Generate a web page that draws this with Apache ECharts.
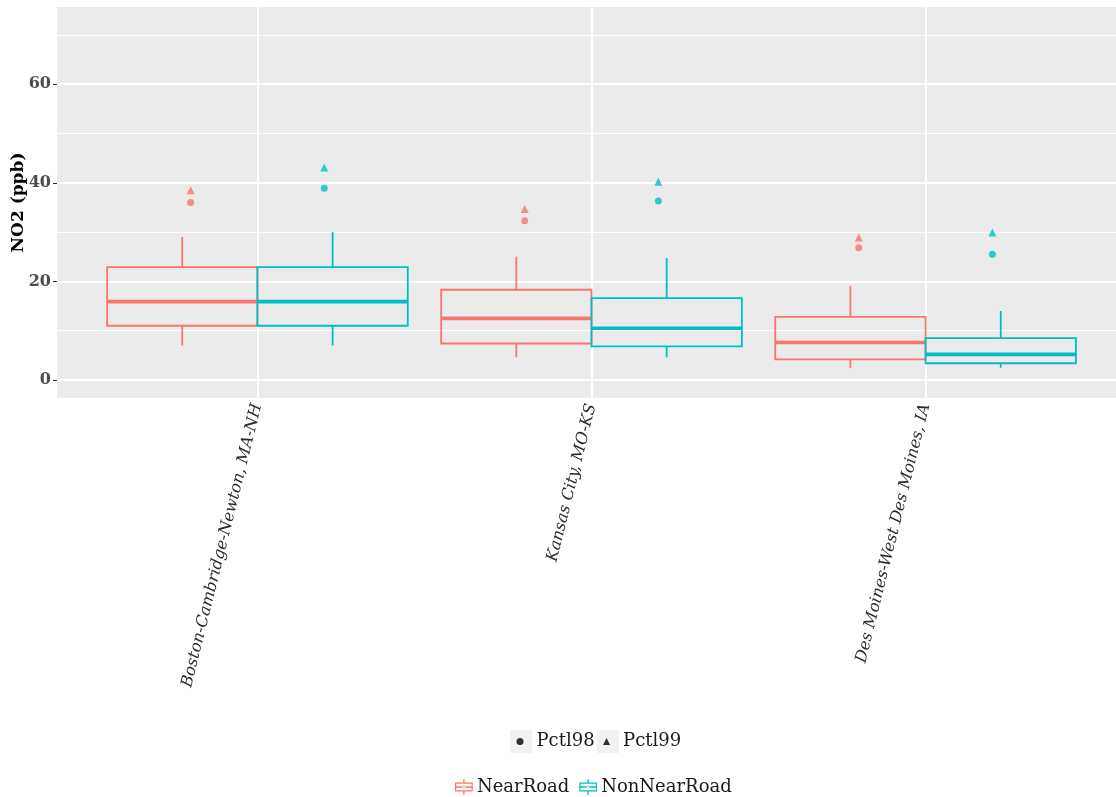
<!DOCTYPE html>
<html>
<head>
<meta charset="utf-8">
<script src="https://cdn.jsdelivr.net/npm/echarts@6/dist/echarts.min.js"></script>
<style>
html,body{margin:0;padding:0;background:#fff;}
#chart{width:1116px;height:797px;}
</style>
</head>
<body>
<div id="chart"></div>
<script>
// ---- data ----
const categories = ['Boston-Cambridge-Newton, MA-NH', 'Kansas City, MO-KS', 'Des Moines-West Des Moines, IA'];
const groupNames = ['NearRoad', 'NonNearRoad'];
// [lowerWhisker, Q1, median, Q3, upperWhisker]
const nearRoadBox = [
  [7.0, 11.0, 15.9, 22.9, 29.0],
  [4.6, 7.4, 12.5, 18.3, 25.0],
  [2.4, 4.2, 7.6, 12.8, 19.1]
];
const nonNearRoadBox = [
  [7.0, 11.0, 15.9, 22.9, 30.0],
  [4.6, 6.8, 10.5, 16.6, 24.7],
  [2.5, 3.4, 5.2, 8.5, 14.0]
];
const nearRoadPctl98 = [36.0, 32.3, 26.8];
const nearRoadPctl99 = [38.5, 34.7, 28.9];
const nonNearRoadPctl98 = [38.9, 36.3, 25.5];
const nonNearRoadPctl99 = [43.1, 40.2, 29.9];
const yTickValues = [0, 20, 40, 60];
const yMinorGridValues = [10, 30, 50, 70];
const yTitle = 'NO2 (ppb)';
const pointLegend = ['Pctl98', 'Pctl99'];

// ---- style ----
const COLORS = { NearRoad: '#F8766D', NonNearRoad: '#00BFC4' };
const BOX_WIDTH = 0.45;   // dodge width 0.9 split in two
const POINT_DODGE = 0.2;
const FONT = '"DejaVu Serif", "Liberation Serif", serif';

const catPositions = categories.map((c, i) => i + 1);

function boxRender(offset, color) {
  return function (params, api) {
    const x = api.value(0) + offset;
    const pLow = api.coord([x, api.value(1)]);
    const pQ1 = api.coord([x, api.value(2)]);
    const pMed = api.coord([x, api.value(3)]);
    const pQ3 = api.coord([x, api.value(4)]);
    const pHigh = api.coord([x, api.value(5)]);
    const halfW = api.size([BOX_WIDTH, 0])[0] / 2;
    const lw = 1.8;
    return {
      type: 'group',
      children: [
        { type: 'line', shape: { x1: pLow[0], y1: pLow[1], x2: pQ1[0], y2: pQ1[1] }, style: { stroke: color, lineWidth: lw } },
        { type: 'line', shape: { x1: pQ3[0], y1: pQ3[1], x2: pHigh[0], y2: pHigh[1] }, style: { stroke: color, lineWidth: lw } },
        { type: 'rect', shape: { x: pQ3[0] - halfW, y: pQ3[1], width: 2 * halfW, height: pQ1[1] - pQ3[1] }, style: { fill: 'none', stroke: color, lineWidth: lw } },
        { type: 'line', shape: { x1: pMed[0] - halfW, y1: pMed[1], x2: pMed[0] + halfW, y2: pMed[1] }, style: { stroke: color, lineWidth: 3.6 } }
      ]
    };
  };
}

function boxData(arr) {
  return arr.map((b, i) => [catPositions[i]].concat(b));
}
function pointData(arr, offset) {
  return arr.map((v, i) => [catPositions[i] + offset, v]);
}

const boxIcon = 'path://M1,4H21V14H1Z M2.4,5.4V12.6H19.6V5.4Z M2.4,8.2H19.6V9.8H2.4Z M10.3,0H11.7V4H10.3Z M10.3,14H11.7V18H10.3Z M9.4,9A1.6,1.6 0 1,0 12.6,9A1.6,1.6 0 1,0 9.4,9Z';

const chart = echarts.init(document.getElementById('chart'), null, { renderer: 'canvas' });

const option = {
  animation: false,
  backgroundColor: '#FFFFFF',
  textStyle: { fontFamily: FONT },
  grid: {
    left: 57, top: 7, right: 0, bottom: 399,
    show: true, backgroundColor: '#EBEBEB', borderWidth: 0,
    containLabel: false, outerBoundsMode: 'none'
  },
  graphic: [
    { type: 'rect', left: 510, top: 730, shape: { width: 22, height: 23 }, style: { fill: '#F2F2F2' }, z: -1 },
    { type: 'rect', left: 597, top: 730, shape: { width: 22, height: 23 }, style: { fill: '#F2F2F2' }, z: -1 }
  ],
  legend: [
    {
      top: 731.5, left: 516.5, orient: 'horizontal', padding: 0,
      itemWidth: 7, itemHeight: 7, itemGap: 8.5,
      textStyle: { fontFamily: FONT, fontSize: 18, lineHeight: 20, color: '#1A1A1A', padding: [0, 0, 0, 8] },
      data: [
        { name: pointLegend[0], icon: 'circle', itemStyle: { color: '#000' } },
        { name: pointLegend[1], icon: 'triangle', itemStyle: { color: '#000' } }
      ],
      selectedMode: false
    },
    {
      top: 777, left: 455, orient: 'horizontal', padding: 0,
      itemWidth: 22, itemHeight: 16, itemGap: 10,
      textStyle: { fontFamily: FONT, fontSize: 18, lineHeight: 20, color: '#1A1A1A', padding: [0, 0, 0, -3] },
      data: [
        { name: groupNames[0], icon: boxIcon },
        { name: groupNames[1], icon: boxIcon }
      ],
      selectedMode: false
    }
  ],
  xAxis: {
    type: 'value', min: 0.4, max: 3.57,
    axisLine: { show: false },
    axisTick: { show: true, customValues: catPositions, length: 4, lineStyle: { color: '#333333', width: 1 } },
    axisLabel: {
      customValues: catPositions,
      formatter: v => categories[Math.round(v) - 1] || '',
      rotate: 76, margin: 6,
      fontFamily: FONT, fontStyle: 'italic', fontSize: 16, color: '#2B2B2B'
    },
    splitLine: { show: false }
  },
  yAxis: {
    type: 'value', min: -3.65, max: 75.65,
    name: yTitle, nameLocation: 'middle', nameGap: 30, nameRotate: 90, nameMoveOverlap: false,
    nameTextStyle: { fontFamily: FONT, fontWeight: 'bold', fontSize: 17, color: '#000' },
    axisLine: { show: false },
    axisTick: { show: true, customValues: yTickValues, length: 4, lineStyle: { color: '#333333', width: 1 } },
    axisLabel: { customValues: yTickValues, margin: 6, fontFamily: FONT, fontWeight: 'bold', fontSize: 16, color: '#4D4D4D' },
    splitLine: { show: false }
  },
  series: [
    {
      name: 'grid', type: 'line', data: [], z: 1, silent: true,
      markLine: {
        silent: true, symbol: 'none', label: { show: false }, animation: false, z: 1,
        data: []
          .concat(yMinorGridValues.map(v => ({ yAxis: v, lineStyle: { color: '#FFFFFF', width: 1, type: 'solid' } })))
          .concat(yTickValues.map(v => ({ yAxis: v, lineStyle: { color: '#FFFFFF', width: 2, type: 'solid' } })))
          .concat(catPositions.map(v => ({ xAxis: v, lineStyle: { color: '#FFFFFF', width: 2, type: 'solid' } })))
      }
    },
    {
      name: groupNames[0], type: 'custom', z: 3,
      itemStyle: { color: COLORS.NearRoad },
      renderItem: boxRender(-BOX_WIDTH / 2, COLORS.NearRoad),
      encode: { x: 0, y: [1, 2, 3, 4, 5] },
      data: boxData(nearRoadBox)
    },
    {
      name: groupNames[1], type: 'custom', z: 3,
      itemStyle: { color: COLORS.NonNearRoad },
      renderItem: boxRender(BOX_WIDTH / 2, COLORS.NonNearRoad),
      encode: { x: 0, y: [1, 2, 3, 4, 5] },
      data: boxData(nonNearRoadBox)
    },
    {
      name: pointLegend[0], type: 'scatter', z: 4, symbol: 'circle', symbolSize: 7,
      itemStyle: { color: COLORS.NearRoad }, data: pointData(nearRoadPctl98, -POINT_DODGE)
    },
    {
      name: pointLegend[0], type: 'scatter', z: 4, symbol: 'circle', symbolSize: 7,
      itemStyle: { color: COLORS.NonNearRoad }, data: pointData(nonNearRoadPctl98, POINT_DODGE)
    },
    {
      name: pointLegend[1], type: 'scatter', z: 4, symbol: 'triangle', symbolSize: 8,
      itemStyle: { color: COLORS.NearRoad }, data: pointData(nearRoadPctl99, -POINT_DODGE)
    },
    {
      name: pointLegend[1], type: 'scatter', z: 4, symbol: 'triangle', symbolSize: 8,
      itemStyle: { color: COLORS.NonNearRoad }, data: pointData(nonNearRoadPctl99, POINT_DODGE)
    }
  ]
};
chart.setOption(option);
</script>
</body>
</html>
